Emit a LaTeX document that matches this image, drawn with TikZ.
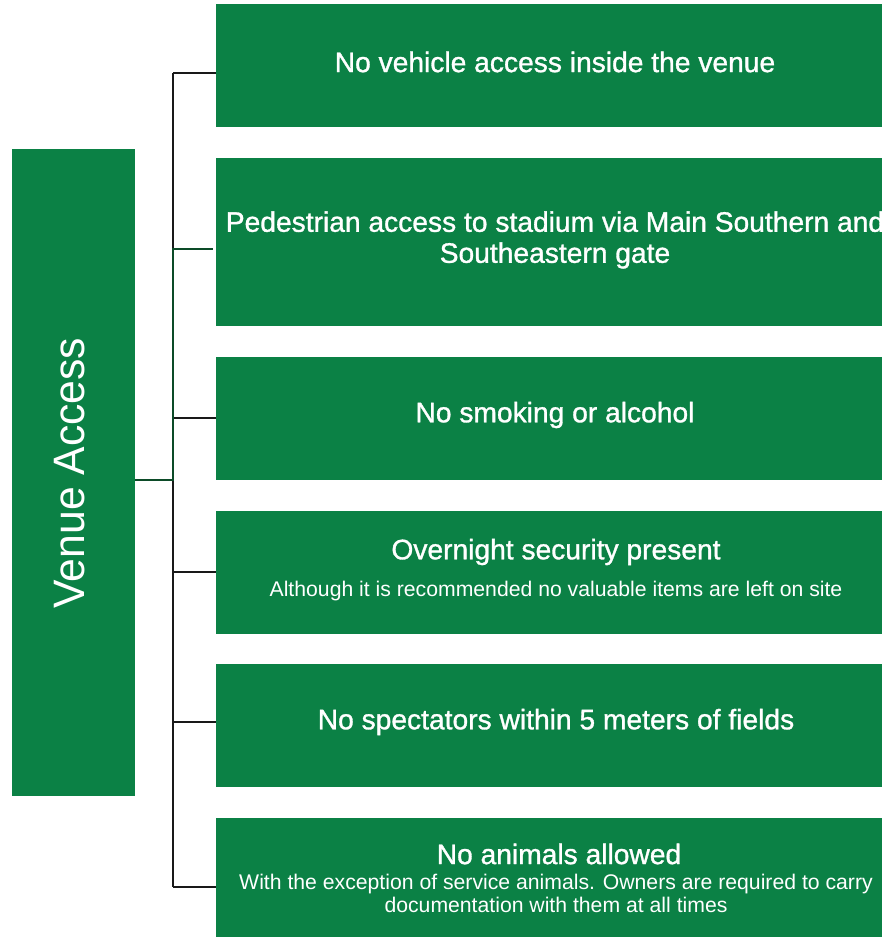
\documentclass[tikz,border=0pt]{standalone}
\usepackage{fontspec}
\setmainfont{Liberation Sans}
\newfontfamily\titlefont[FakeBold=1.1]{Liberation Sans}
\newfontfamily\subfont{Liberation Sans}
\newfontfamily\rootfont[FakeStretch=0.97]{Liberation Sans}
\definecolor{boxgreen}{RGB}{11,129,69}
\definecolor{linegreen}{RGB}{12,75,40}
\definecolor{lineblack}{RGB}{25,25,25}
\begin{document}
\begin{tikzpicture}[x=1pt,y=-1pt,
  leaf/.style={fill=boxgreen,draw=none,minimum width=666pt,anchor=north west,inner sep=0pt,text=white,align=center},
  link/.style={draw=lineblack,line width=2pt},
  hilink/.style={draw=linegreen,line width=2pt},
  ttl/.style={text=white,font=\titlefont\fontsize{28.2}{31}\selectfont},
  sub/.style={text=white,font=\subfont\fontsize{21.2}{23}\selectfont},
]
\useasboundingbox (0,0) rectangle (882,937);
% root
\node[fill=boxgreen,minimum width=123pt,minimum height=647pt,anchor=north west,inner sep=0pt] (root) at (12,149) {};
\node[rotate=90,anchor=base,text=white,font=\rootfont\fontsize{44}{50}\selectfont] (roottext) at (84,473) {Venue Access};
% leaves
\node[leaf,minimum height=123pt] (b1) at (216,4) {};
\node[leaf,minimum height=168pt] (b2) at (216,158) {};
\node[leaf,minimum height=123pt] (b3) at (216,357) {};
\node[leaf,minimum height=123pt] (b4) at (216,511) {};
\node[leaf,minimum height=123pt] (b5) at (216,664) {};
\node[leaf,minimum height=119pt] (b6) at (216,818) {};
% coordinates
\coordinate (trunk) at (173,480);
\coordinate (c1) at (173,73);
\coordinate (c2) at (173,249);
\coordinate (c3) at (173,418);
\coordinate (c4) at (173,572);
\coordinate (c5) at (173,722);
\coordinate (c6) at (173,887);
\coordinate (e1) at (216,73);
\coordinate (e2) at (213,249);
\coordinate (e3) at (216,418);
\coordinate (e4) at (216,572);
\coordinate (e5) at (216,722);
\coordinate (e6) at (216,887);
% connectors
\draw[link] (c1) -- (e1);
\draw[link] (c3) -- (e3);
\draw[link] (c4) -- (e4);
\draw[link] (c5) -- (e5);
\draw[link] (c6) -- (e6);
\draw[link] (c1) -- (c2);
\draw[link] (trunk) -- (c6);
\draw[hilink] (root.east |- trunk) -- (trunk) -- (c2) -- (e2);
% texts
\node[ttl] (t1) at (555,62) {No vehicle access inside the venue};
\node[ttl,align=center] (t2) at (555,240) {Pedestrian access to stadium via Main Southern and\\Southeastern gate};
\node[ttl] (t3) at (555,415) {No smoking or alcohol};
\node[ttl] (t4) at (556,552) {Overnight security present};
\node[sub] (s4) at (556,591) {Although it is recommended no valuable items are left on site};
\node[ttl] (t5) at (556,722) {No spectators within 5 meters of fields};
\node[ttl] (t6) at (559,854) {No animals allowed};
\node[sub,align=center] (s6) at (556,893) {With the exception of service animals. Owners are required to carry\\documentation with them at all times};
\end{tikzpicture}
\end{document}
